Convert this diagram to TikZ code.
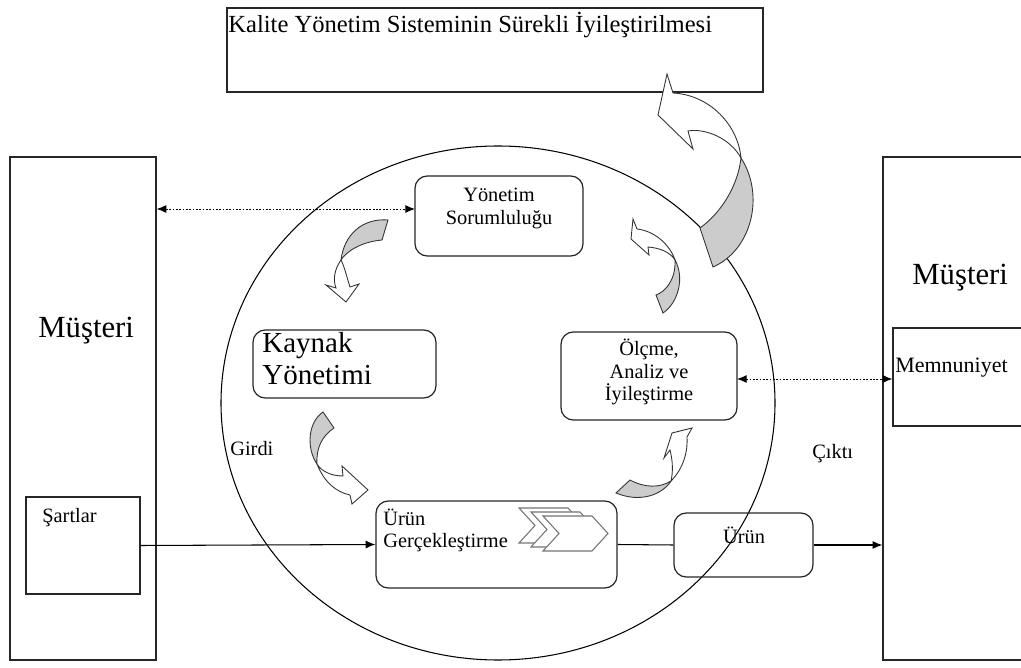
\documentclass[tikz,border=0pt]{standalone}
\usepackage{fontspec}
\setmainfont{Liberation Serif}
\usetikzlibrary{fit, arrows.meta}

\begin{document}
\begin{tikzpicture}[x=0.02cm, y=-0.02cm,
    box/.style={draw=black!85, line width=0.7pt, inner sep=0pt},
    rbox/.style={box, rounded corners=7pt},
    txt/.style={inner sep=0pt, anchor=base west, font=\fontsize{11.6}{14}\selectfont},
    ctxt/.style={txt, anchor=base},
    dots/.style={dash pattern=on 1pt off 0.9pt, line width=0.5pt},
    tip/.style={-{Latex[length=5.5pt, width=4.5pt]}},
    tips/.style={{Latex[length=5.5pt, width=4.5pt]}-{Latex[length=5.5pt, width=4.5pt]}},
    ribbon/.style={draw=black!80, line width=0.5pt, fill=black!20},
    front/.style={draw=black!80, line width=0.5pt, fill=white},
    chev/.style={draw=black!55, line width=0.6pt, fill=white}]

    \useasboundingbox (0,0) rectangle (1021,668);
    \clip (0,0) rectangle (1021,668);

    % Big circle
    \draw[line width=0.6pt] (498,403) ellipse [x radius=277, y radius=257];

    % Outer boxes (the right ones run off the page)
    \node[box, fit={(227,8) (763,92)}] (kys) {};
    \node[box, fit={(10,157) (156,660)}] (musL) {};
    \node[box, fit={(26,497) (140,594)}] (sart) {};
    \node[box, fit={(883,157) (1040,660)}] (musR) {};
    \node[box, fit={(893,328) (1035,426)}] (memn) {};

    % Process boxes
    \node[rbox, fit={(415,176) (583,256)}] (yon) {};
    \node[rbox, fit={(253,330) (436,398)}] (kay) {};
    \node[rbox, fit={(561,332) (737,420)}] (olc) {};
    \node[rbox, fit={(376,501) (617,588)}] (urg) {};
    \node[rbox, fit={(674,513) (813,577)}] (urun) {};

    % Texts
    \node[txt, font=\fontsize{14}{16}\selectfont] (t0) at (228,33) {Kalite Yönetim Sisteminin Sürekli İyileştirilmesi};
    \node[txt, font=\fontsize{17.5}{20}\selectfont] (t1) at (38,338) {Müşteri};
    \node[txt, font=\fontsize{17.5}{20}\selectfont] (t2) at (912,285) {Müşteri};
    \node[txt] (t3) at (42,523) {Şartlar};
    \node[txt, font=\fontsize{12.5}{14}\selectfont] (t4) at (895,373) {Memnuniyet};
    \node[ctxt] (t5) at (499,202) {Yönetim};
    \node[ctxt] (t6) at (499,225) {Sorumluluğu};
    \node[txt, font=\fontsize{16.5}{19}\selectfont] (t7) at (262,353) {Kaynak};
    \node[txt, font=\fontsize{16.5}{19}\selectfont] (t8) at (262,385) {Yönetimi};
    \node[ctxt] (t9) at (649,356) {Ölçme,};
    \node[ctxt] (t10) at (649,379) {Analiz ve};
    \node[ctxt] (t11) at (649,401) {İyileştirme};
    \node[txt] (t12) at (383,526) {Ürün};
    \node[txt] (t13) at (383,548) {Gerçekleştirme};
    \node[ctxt] (t14) at (744,543) {Ürün};
    \node[txt] (t15) at (230,456) {Girdi};
    \node[txt] (t16) at (812,459) {Çıktı};

    % Chevrons
    \foreach \d in {24,12,0}
        \draw[chev, shift={(-\d,-\d/3)}] (543,516) -- (592,516) -- (608,533.5) -- (592,551) -- (543,551) -- (559,533.5) -- cycle;

    % Connectors
    \coordinate (d1) at (415,209);
    \draw[dots, tips] (musL.east |- d1) -- (d1);
    \coordinate (d2) at (737,379);
    \draw[dots, tips] (d2) -- (memn.west |- d2);
    \draw[tip, line width=0.6pt] (sart.east) -- (urg.west);
    \draw[line width=0.6pt] (urg.east) -- (urun.west);
    \draw[tip, line width=0.6pt] (urun.east) -- (musR.west |- urun.east);

    % Curved arrows
    % big one, up to the top box
    \draw[ribbon] (741,158) .. controls (738,185) and (722,212) .. (700,228) -- (713,267) .. controls (752,250) and (765,195) .. (741,158) -- cycle;
    \draw[front] (667,74) -- (658,115) -- (693,149) -- (688,131) .. controls (705,128) and (730,138) .. (741,158) .. controls (738,125) and (710,95) .. (673,93) -- cycle;
    % Yonetim to Kaynak
    \draw[ribbon] (388,220) .. controls (362,218) and (344,235) .. (341,260) .. controls (346,252) and (360,242) .. (382,240) -- cycle;
    \draw[front] (341,260) .. controls (334,270) and (333,280) .. (336,288) -- (326,285) -- (346,302) -- (359,284) -- (350,287) .. controls (347,278) and (345,268) .. (341,260) -- cycle;
    % Kaynak to Urun
    \draw[ribbon] (323,412) .. controls (308,422) and (306,448) .. (317,464) .. controls (316,448) and (322,436) .. (334,428) -- cycle;
    \draw[front] (317,464) .. controls (322,472) and (332,476) .. (343,476) -- (342,466) -- (368,490) -- (352,504) -- (350,495) .. controls (336,492) and (324,482) .. (317,464) -- cycle;
    % Urun to Olcme
    \draw[ribbon] (630,480) -- (616,493) .. controls (640,503) and (662,495) .. (671,481) .. controls (660,488) and (645,488) .. (630,480) -- cycle;
    \draw[front] (671,481) .. controls (684,468) and (688,450) .. (687,437) -- (692,428) -- (672,433) -- (664,458) -- (670,450) .. controls (673,462) and (673,472) .. (671,481) -- cycle;
    % Olcme to Yonetim
    \draw[ribbon] (656,295) -- (663,313) .. controls (678,303) and (685,278) .. (675,260) .. controls (676,280) and (665,292) .. (656,295) -- cycle;
    \draw[front] (675,260) .. controls (670,245) and (655,231) .. (637,229) -- (633,219) -- (631,239) -- (649,255) -- (648,247) .. controls (660,248) and (670,252) .. (675,260) -- cycle;
\end{tikzpicture}
\end{document}
